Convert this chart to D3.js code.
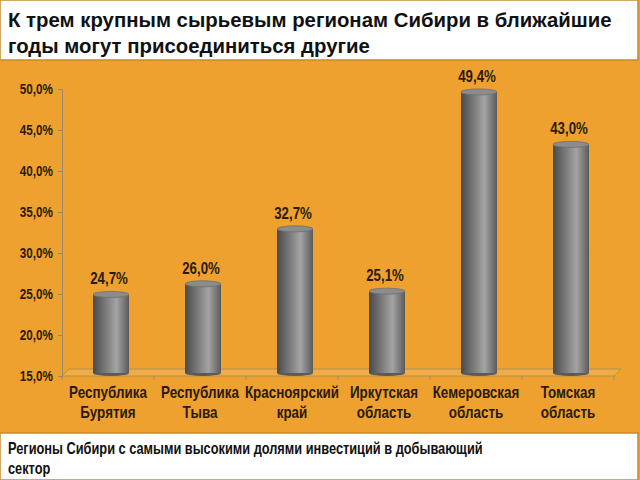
<!DOCTYPE html>
<html>
<head>
<meta charset="utf-8">
<script src="https://cdn.jsdelivr.net/npm/d3@7"></script>
<style>
  body { margin: 0; padding: 0; }
  svg { display: block; }
</style>
</head>
<body>
<div id="chart"></div>
<script>
// Regions of Siberia with the highest shares of investment in mining

var categories = ["Республика Бурятия", "Республика Тыва", "Красноярский край",
                  "Иркутская область", "Кемеровская область", "Томская область"];
var categoryLines = [["Республика", "Бурятия"], ["Республика", "Тыва"], ["Красноярский", "край"],
                     ["Иркутская", "область"], ["Кемеровская", "область"], ["Томская", "область"]];
var shares = [24.7, 26.0, 32.7, 25.1, 49.4, 43.0];
var yTicks = [15, 20, 25, 30, 35, 40, 45, 50];

var titleLines = ["К трем крупным сырьевым регионам Сибири в ближайшие",
                  "годы могут присоединиться другие"];
var footLines = ["Регионы Сибири с самыми высокими долями инвестиций в добывающий",
                 "сектор"];

var svgWidth = 640;
var svgHeight = 480;
var sans = "'Liberation Sans', Arial, sans-serif";
var fmt = d => d.toFixed(1).replace(".", ",") + "%";

// no narrow font installed, so squeeze text horizontally
var sqTick = 0.78, sqVal = 0.78, sqCat = 0.84;

var svg = d3.select("#chart").append("svg")
    .attr("width", svgWidth)
    .attr("height", svgHeight);

// gradients for the cylinders
var defs = svg.append("defs");
var grad = defs.append("linearGradient").attr("id", "cyl");
grad.append("stop").attr("offset", "0%").attr("stop-color", "#4a4a4a");
grad.append("stop").attr("offset", "35%").attr("stop-color", "#7a7a7a");
grad.append("stop").attr("offset", "65%").attr("stop-color", "#a4a4a4");
grad.append("stop").attr("offset", "100%").attr("stop-color", "#5a5a5a");

// background
svg.append("rect")
    .attr("width", svgWidth).attr("height", svgHeight)
    .attr("fill", "#EFA12F");

// title box
svg.append("rect")
    .attr("x", 0).attr("y", 0).attr("width", 638).attr("height", 60)
    .attr("fill", "#ffffff").attr("stroke", "#c98a2c").attr("stroke-width", 1.5);
svg.append("g")
    .attr("transform", "translate(8,0) scale(0.97,1)")
    .selectAll("text")
    .data(titleLines).enter().append("text")
    .attr("x", 0)
    .attr("y", (d, i) => 27 + i * 26)
    .attr("font-family", sans)
    .attr("font-weight", "bold")
    .attr("font-size", "21px")
    .attr("fill", "#111")
    .text(d => d);

// footnote box
svg.append("rect")
    .attr("x", 0).attr("y", 433).attr("width", 638).attr("height", 47)
    .attr("fill", "#ffffff").attr("stroke", "#c98a2c").attr("stroke-width", 1.5);
svg.append("g")
    .attr("transform", "translate(8,0) scale(0.8,1)")
    .selectAll("text")
    .data(footLines).enter().append("text")
    .attr("x", 0)
    .attr("y", (d, i) => 454 + i * 20)
    .attr("font-family", sans)
    .attr("font-weight", "bold")
    .attr("font-size", "16px")
    .attr("fill", "#111")
    .text(d => d);

// scales
var x = d3.scaleBand().domain(categories).range([62, 614]);
var y = d3.scaleLinear().domain([15, 50]).range([376, 89]);

var depth = 7; // 3d floor shift
var barW = 36;

// floor
var floorG = svg.append("g");
floorG.append("path")
    .attr("d", `M62,${y(15)} L${614},${y(15)} L${614 + depth},${y(15) - depth} L${62 + depth},${y(15) - depth} Z`)
    .attr("fill", "#F2AB45")
    .attr("stroke", "#9a8a70")
    .attr("stroke-width", 0.8);
floorG.selectAll("line.tk")
    .data(categories.concat(["end"])).enter().append("line")
    .attr("x1", (d, i) => 62 + i * x.step())
    .attr("x2", (d, i) => 62 + i * x.step())
    .attr("y1", y(15))
    .attr("y2", y(15) + 4)
    .attr("stroke", "#9a8a70");

// y axis
var yAxis = d3.axisLeft(y).tickValues(yTicks).tickSize(4).tickFormat(fmt);
var yG = svg.append("g")
    .attr("transform", "translate(62,0)")
    .call(yAxis);
yG.select(".domain").attr("stroke", "#9a8a70");
yG.selectAll(".tick line").attr("stroke", "#9a8a70");
yG.selectAll(".tick text")
    .attr("x", -9 / sqTick)
    .attr("transform", `scale(${sqTick},1)`)
    .attr("font-family", sans)
    .attr("font-weight", "bold")
    .attr("font-size", "15px")
    .attr("fill", "#2a1a08");

// cylinders
var bars = svg.append("g").selectAll("g")
    .data(shares).enter().append("g")
    .attr("transform", (d, i) => `translate(${x(categories[i]) + x.bandwidth() / 2 + 3},0)`);

var bottomY = y(15) - 3;
bars.append("ellipse")
    .attr("cx", 0).attr("cy", bottomY).attr("rx", barW / 2).attr("ry", 3)
    .attr("fill", "#5a5a5a");
bars.append("rect")
    .attr("x", -barW / 2)
    .attr("y", d => y(d) - 2)
    .attr("width", barW)
    .attr("height", d => bottomY - y(d) + 2)
    .attr("fill", "url(#cyl)");
bars.append("ellipse")
    .attr("cx", 0).attr("cy", d => y(d) - 2).attr("rx", barW / 2).attr("ry", 3)
    .attr("fill", "#8c8c8c")
    .attr("stroke", "#6e6e6e")
    .attr("stroke-width", 0.8);

// value labels
bars.append("text")
    .attr("transform", d => `translate(-2,${y(d) - 12}) scale(${sqVal},1)`)
    .attr("text-anchor", "middle")
    .attr("font-family", sans)
    .attr("font-weight", "bold")
    .attr("font-size", "17px")
    .attr("fill", "#2a1a08")
    .text(fmt);

// category labels
var catG = svg.append("g").selectAll("g")
    .data(categoryLines).enter().append("g")
    .attr("transform", (d, i) => `translate(${x(categories[i]) + x.bandwidth() / 2},0) scale(${sqCat},1)`);
catG.selectAll("text")
    .data(d => d).enter().append("text")
    .attr("x", 0)
    .attr("y", (d, i) => 398 + i * 20)
    .attr("text-anchor", "middle")
    .attr("font-family", sans)
    .attr("font-weight", "bold")
    .attr("font-size", "16px")
    .attr("fill", "#2a1a08")
    .text(d => d);
</script>
</body>
</html>
